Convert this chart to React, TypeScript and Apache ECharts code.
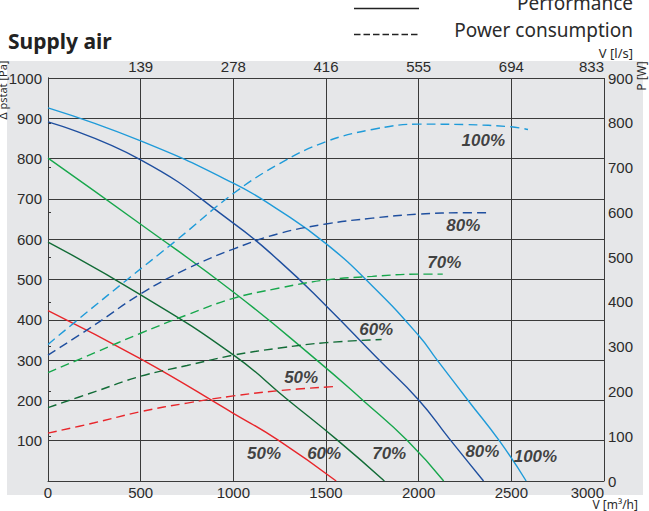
import React, { useEffect, useRef } from 'react';
import * as echarts from 'echarts';

// ---- Data (m³/h vs Pa for performance; m³/h vs W for power) ----
const perf100X = [0, 500, 1000, 1250, 1500, 1750, 2000, 2100, 2270, 2435, 2580];
const perf100Y = [926, 844, 739, 671, 589, 484, 361, 300, 198, 100, 0];
const perf80X = [0, 500, 1000, 1250, 1500, 1776, 2000, 2165, 2350];
const perf80Y = [891, 797, 640, 545, 435, 305, 201, 105, 0];
const perf70X = [0, 500, 1000, 1450, 1700, 1940, 2135];
const perf70Y = [801, 637, 469, 300, 200, 100, 0];
const perf60X = [0, 500, 1000, 1290, 1560, 1815];
const perf60Y = [593, 462, 313, 203, 102, 0];
const perf50X = [0, 500, 1000, 1240, 1555];
const perf50Y = [423, 303, 168, 102, 0];

const pow100X = [0, 225, 425, 700, 1000, 1250, 1500, 1750, 2000, 2250, 2500, 2590];
const pow100Y = [305, 382, 449, 540, 642, 709, 758, 785, 797, 796, 791, 785];
const pow80X = [0, 250, 500, 750, 1000, 1250, 1500, 1750, 2000, 2250, 2370];
const pow80Y = [281, 348, 418, 474, 518, 553, 574, 587, 596, 599, 599];
const pow70X = [0, 250, 500, 750, 1000, 1250, 1500, 1750, 2000, 2130];
const pow70Y = [242, 286, 330, 371, 408, 431, 449, 457, 462, 462];
const pow60X = [0, 250, 500, 750, 1000, 1250, 1500, 1800];
const pow60Y = [164, 199, 234, 258, 281, 297, 309, 316];
const pow50X = [0, 250, 500, 750, 1000, 1250, 1550];
const pow50Y = [107, 130, 155, 174, 190, 202, 211];

const topTickLabels = ['', '139', '278', '416', '555', '694', '833'];

const labelText = ['100%', '80%', '70%', '60%', '50%', '50%', '60%', '70%', '80%', '100%'];
const labelX = [2349, 2241, 2138, 1771, 1366, 1166, 1490, 1841, 2344, 2630];
const labelY = [846, 633, 541, 375, 256, 69, 69, 67, 72, 62];

const C100 = '#1f9bd9';
const C80 = '#1f4f9f';
const C70 = '#17a74c';
const C60 = '#126c37';
const C50 = '#e8262b';

const AX_FONT = '"Liberation Sans", Arial, sans-serif';
const TXT_FONT = '"Noto Sans", sans-serif';

function pairs(xs: number[], ys: number[]) {
  return xs.map((x, i) => [x, ys[i]]);
}

function perfSeries(name: string, xs: number[], ys: number[], color: string) {
  return {
    name,
    type: 'line',
    data: pairs(xs, ys),
    smooth: 0.5,
    showSymbol: false,
    xAxisIndex: 0,
    yAxisIndex: 0,
    lineStyle: { color, width: 1.4, type: 'solid' },
    silent: true,
    z: 3,
  };
}

function powSeries(name: string, xs: number[], ys: number[], color: string) {
  return {
    name,
    type: 'line',
    data: pairs(xs, ys),
    smooth: 0.4,
    showSymbol: false,
    xAxisIndex: 0,
    yAxisIndex: 1,
    lineStyle: { color, width: 1.4, type: [9, 5] },
    silent: true,
    z: 3,
  };
}

export default function App() {
  const ref = useRef<HTMLDivElement>(null);
  useEffect(() => {
    const chart = echarts.init(ref.current!, null, { renderer: 'svg' });
    const gridColor = '#3a3a3a';
    const option: any = {
      animation: false,
      backgroundColor: '#ffffff',
      grid: { left: 48, right: 45, top: 78, bottom: 30, containLabel: false },
      xAxis: [
        {
          type: 'value',
          position: 'bottom',
          min: 0,
          max: 3000,
          interval: 500,
          axisLine: { show: true, lineStyle: { color: gridColor, width: 1 } },
          axisTick: { show: false },
          axisLabel: {
            show: true,
            fontSize: 15,
            fontFamily: AX_FONT,
            color: '#2b2b2b',
            margin: 4,
            alignMaxLabel: 'right',
            formatter: (v: number) => String(v),
          },
          splitLine: { show: true, lineStyle: { color: gridColor, width: 1 } },
        },
        {
          type: 'value',
          position: 'top',
          min: 0,
          max: 3000,
          interval: 500,
          axisLine: { show: false },
          axisTick: { show: false },
          axisLabel: {
            show: true,
            fontSize: 15,
            fontFamily: AX_FONT,
            color: '#2b2b2b',
            margin: 4,
            alignMaxLabel: 'right',
            formatter: (v: number) => topTickLabels[Math.round(v / 500)] || '',
          },
          splitLine: { show: false },
        },
      ],
      yAxis: [
        {
          type: 'value',
          position: 'left',
          min: 0,
          max: 1000,
          interval: 100,
          axisLine: { show: true, lineStyle: { color: gridColor, width: 1 } },
          axisTick: { show: false },
          axisLabel: {
            show: true,
            fontSize: 15,
            fontFamily: AX_FONT,
            color: '#2b2b2b',
            margin: 6,
            formatter: (v: number) => (v === 0 ? '' : String(v)),
          },
          splitLine: { show: true, lineStyle: { color: gridColor, width: 1 } },
        },
        {
          type: 'value',
          position: 'right',
          min: 0,
          max: 900,
          interval: 100,
          axisLine: { show: true, lineStyle: { color: gridColor, width: 1 } },
          axisTick: { show: true, length: 3, lineStyle: { color: gridColor, width: 1 } },
          axisLabel: {
            show: true,
            fontSize: 15,
            fontFamily: AX_FONT,
            color: '#2b2b2b',
            margin: 4,
            formatter: (v: number) => String(v),
          },
          splitLine: { show: false },
        },
      ],
      graphic: [
        {
          type: 'rect',
          shape: { x: 7, y: 61, width: 636, height: 434 },
          style: { fill: '#e6e7e9' },
          z: -10,
          silent: true,
        },
        {
          type: 'text',
          x: 8,
          y: 41,
          style: {
            text: 'Supply air',
            font: 'bold 21px ' + TXT_FONT,
            fill: '#222222',
            align: 'left',
            verticalAlign: 'middle',
          },
        },
        {
          type: 'line',
          shape: { x1: 354, y1: 8.5, x2: 419, y2: 8.5 },
          style: { stroke: '#222222', lineWidth: 1.5 },
        },
        {
          type: 'line',
          shape: { x1: 354, y1: 34.5, x2: 419, y2: 34.5 },
          style: { stroke: '#222222', lineWidth: 1.5, lineDash: [6.5, 3] },
        },
        {
          type: 'text',
          x: 633,
          y: 3,
          style: {
            text: 'Performance',
            font: '19px ' + TXT_FONT,
            fill: '#2b2b2b',
            align: 'right',
            verticalAlign: 'middle',
          },
        },
        {
          type: 'text',
          x: 633,
          y: 30,
          style: {
            text: 'Power consumption',
            font: '19px ' + TXT_FONT,
            fill: '#2b2b2b',
            align: 'right',
            verticalAlign: 'middle',
          },
        },
        {
          type: 'text',
          x: 633,
          y: 52.5,
          style: {
            text: 'V [l/s]',
            font: '13px ' + TXT_FONT,
            fill: '#2b2b2b',
            align: 'right',
            verticalAlign: 'middle',
          },
        },
        {
          type: 'text',
          x: 638,
          y: 504,
          style: {
            text: 'V [m³/h]',
            font: '12px ' + TXT_FONT,
            fill: '#2b2b2b',
            align: 'right',
            verticalAlign: 'middle',
          },
        },
        {
          type: 'text',
          x: 641,
          y: 76,
          rotation: Math.PI / 2,
          style: {
            text: 'P [W]',
            font: '12px ' + TXT_FONT,
            fill: '#2b2b2b',
            align: 'center',
            verticalAlign: 'middle',
          },
        },
        {
          type: 'text',
          x: 2,
          y: 90,
          rotation: Math.PI / 2,
          style: {
            text: 'Δ pstat [Pa]',
            font: '11px ' + TXT_FONT,
            fill: '#2b2b2b',
            align: 'center',
            verticalAlign: 'middle',
          },
        },
      ],
      series: [
        perfSeries('100%', perf100X, perf100Y, C100),
        perfSeries('80%', perf80X, perf80Y, C80),
        perfSeries('70%', perf70X, perf70Y, C70),
        perfSeries('60%', perf60X, perf60Y, C60),
        perfSeries('50%', perf50X, perf50Y, C50),
        powSeries('P100%', pow100X, pow100Y, C100),
        powSeries('P80%', pow80X, pow80Y, C80),
        powSeries('P70%', pow70X, pow70Y, C70),
        powSeries('P60%', pow60X, pow60Y, C60),
        powSeries('P50%', pow50X, pow50Y, C50),
        {
          type: 'scatter',
          xAxisIndex: 0,
          yAxisIndex: 0,
          symbolSize: 0,
          silent: true,
          z: 5,
          data: labelX.map((x, i) => ({
            value: [x, labelY[i]],
            label: { formatter: labelText[i] },
          })),
          label: {
            show: true,
            position: 'inside',
            fontSize: 17,
            fontWeight: 'bold',
            fontStyle: 'italic',
            fontFamily: AX_FONT,
            color: '#141414',
          },
        },
      ],
    };
    chart.setOption(option);
    return () => chart.dispose();
  }, []);
  return (
    <div
      ref={ref}
      style={{ width: 649, height: 511, position: 'absolute', left: 0, top: 0 }}
    />
  );
}
